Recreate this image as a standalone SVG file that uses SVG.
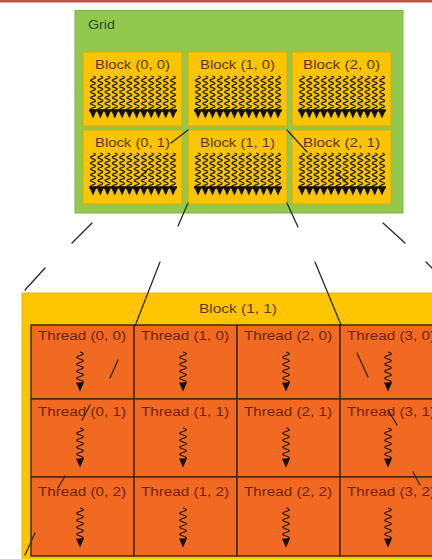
<svg xmlns="http://www.w3.org/2000/svg" xmlns:xlink="http://www.w3.org/1999/xlink" width="432" height="559" viewBox="0 0 432 559">
  <style>
    .lbl { font-family: "Liberation Sans", Arial, sans-serif; font-size: 12px; }
    .grid-box { fill: #92c84e; stroke: #80b542; stroke-width: 1; }
    .blk { fill: #fbc400; stroke: #e0a900; stroke-width: 1; }
    .blk-txt { fill: #5a3a10; }
    .thr { fill: #f26a21; stroke: #452818; stroke-width: 1.5; }
    .thr-txt { fill: #6e2410; }
    .wave { fill: none; stroke: #1a1a1a; stroke-width: 1.3; }
    .twave { fill: none; stroke: #1a1a1a; stroke-width: 1.2; }
    .head { fill: #111; }
    .conn line { stroke: #2a2a2a; stroke-width: 1.3; stroke-linecap: round; }
  </style>
  <defs>
    <!-- small thread wave used inside the grid blocks -->
    <path id="bw" class="wave" d="M0,0 q5,1.45 0,2.9 q-5,1.45 0,2.9 q5,1.45 0,2.9 q-5,1.45 0,2.9 q5,1.45 0,2.9 q-5,1.45 0,2.9 q5,1.45 0,2.9 q-5,1.45 0,2.9 q5,1.45 0,2.9 q-5,1.45 0,2.9 q5,1.45 0,2.9 q-5,1.45 0,2.9"/>
    <g id="bt">
      <use xlink:href="#bw"/>
      <path class="head" d="M-4,33.5 h8 l-4,9 z"/>
    </g>
    <!-- twelve threads per block -->
    <g id="warp">
      <use xlink:href="#bt" x="0"/>
      <use xlink:href="#bt" x="7.3"/>
      <use xlink:href="#bt" x="14.5"/>
      <use xlink:href="#bt" x="21.8"/>
      <use xlink:href="#bt" x="29.1"/>
      <use xlink:href="#bt" x="36.4"/>
      <use xlink:href="#bt" x="43.6"/>
      <use xlink:href="#bt" x="50.9"/>
      <use xlink:href="#bt" x="58.2"/>
      <use xlink:href="#bt" x="65.5"/>
      <use xlink:href="#bt" x="72.7"/>
      <use xlink:href="#bt" x="80"/>
      <rect x="-4" y="33.5" width="88" height="2" fill="#111"/>
    </g>
    <!-- single thread wave for the detailed block -->
    <g id="tw">
      <path class="twave" d="M0,0 q6.5,1.75 0,3.5 q-6.5,1.75 0,3.5 q6.5,1.75 0,3.5 q-6.5,1.75 0,3.5 q6.5,1.75 0,3.5 q-6.5,1.75 0,3.5 q6.5,1.75 0,3.5 q-6.5,1.75 0,3.5 q6.5,1.75 0,3.5 l0,1.5"/>
      <path class="head" d="M-4,30.5 h8 l-4,9 z"/>
    </g>
  </defs>

  <rect width="432" height="559" fill="#ffffff"/>
  <rect x="0" y="0" width="432" height="2.5" fill="#c0504d"/>

  <!-- grid of blocks -->
  <g id="grid">
    <rect class="grid-box" x="75" y="10.5" width="328" height="202.5"/>
    <text class="lbl" x="88" y="29" fill="#2f4a1f" textLength="27" lengthAdjust="spacingAndGlyphs">Grid</text>
  </g>
  <g id="block-0-0">
    <rect class="blk" x="83" y="52" width="99" height="74"/>
    <text class="lbl blk-txt" x="132.5" y="69" text-anchor="middle" textLength="75" lengthAdjust="spacingAndGlyphs">Block (0, 0)</text>
    <use xlink:href="#warp" x="93" y="76"/>
  </g>
  <g id="block-1-0">
    <rect class="blk" x="188" y="52" width="99" height="74"/>
    <text class="lbl blk-txt" x="237.5" y="69" text-anchor="middle" textLength="75" lengthAdjust="spacingAndGlyphs">Block (1, 0)</text>
    <use xlink:href="#warp" x="198" y="76"/>
  </g>
  <g id="block-2-0">
    <rect class="blk" x="292" y="52" width="99" height="74"/>
    <text class="lbl blk-txt" x="341.5" y="69" text-anchor="middle" textLength="77" lengthAdjust="spacingAndGlyphs">Block (2, 0)</text>
    <use xlink:href="#warp" x="302" y="76"/>
  </g>
  <g id="block-0-1">
    <rect class="blk" x="83" y="130" width="99" height="74"/>
    <text class="lbl blk-txt" x="132.5" y="147" text-anchor="middle" textLength="75" lengthAdjust="spacingAndGlyphs">Block (0, 1)</text>
    <use xlink:href="#warp" x="93" y="153"/>
  </g>
  <g id="block-1-1">
    <rect class="blk" x="188" y="130" width="99" height="74"/>
    <text class="lbl blk-txt" x="237.5" y="147" text-anchor="middle" textLength="75" lengthAdjust="spacingAndGlyphs">Block (1, 1)</text>
    <use xlink:href="#warp" x="198" y="153"/>
  </g>
  <g id="block-2-1">
    <rect class="blk" x="292" y="130" width="99" height="74"/>
    <text class="lbl blk-txt" x="341.5" y="147" text-anchor="middle" textLength="77" lengthAdjust="spacingAndGlyphs">Block (2, 1)</text>
    <use xlink:href="#warp" x="302" y="153"/>
  </g>

  <!-- expanded block (1, 1) -->
  <g id="block-1-1-detail">
    <rect x="22" y="293" width="440" height="270" fill="#fdc500" stroke="#e9b200" stroke-width="1"/>
    <text class="lbl" x="238" y="313" fill="#5a3e10" text-anchor="middle" textLength="78" lengthAdjust="spacingAndGlyphs">Block (1, 1)</text>
  </g>

  <g id="thread-0-0">
    <rect class="thr" x="31" y="325" width="103" height="74"/>
    <text class="lbl thr-txt" x="38" y="340" textLength="88" lengthAdjust="spacingAndGlyphs">Thread (0, 0)</text>
    <use xlink:href="#tw" x="80" y="352"/>
  </g>
  <g id="thread-1-0">
    <rect class="thr" x="134" y="325" width="103" height="74"/>
    <text class="lbl thr-txt" x="141" y="340" textLength="88" lengthAdjust="spacingAndGlyphs">Thread (1, 0)</text>
    <use xlink:href="#tw" x="183" y="352"/>
  </g>
  <g id="thread-2-0">
    <rect class="thr" x="237" y="325" width="103" height="74"/>
    <text class="lbl thr-txt" x="244" y="340" textLength="88" lengthAdjust="spacingAndGlyphs">Thread (2, 0)</text>
    <use xlink:href="#tw" x="286" y="352"/>
  </g>
  <g id="thread-3-0">
    <rect class="thr" x="340" y="325" width="103" height="74"/>
    <text class="lbl thr-txt" x="347" y="340" textLength="88" lengthAdjust="spacingAndGlyphs">Thread (3, 0)</text>
    <use xlink:href="#tw" x="388" y="352"/>
  </g>

  <g id="thread-0-1">
    <rect class="thr" x="31" y="399" width="103" height="78"/>
    <text class="lbl thr-txt" x="38" y="416" textLength="88" lengthAdjust="spacingAndGlyphs">Thread (0, 1)</text>
    <use xlink:href="#tw" x="80" y="428"/>
  </g>
  <g id="thread-1-1">
    <rect class="thr" x="134" y="399" width="103" height="78"/>
    <text class="lbl thr-txt" x="141" y="416" textLength="88" lengthAdjust="spacingAndGlyphs">Thread (1, 1)</text>
    <use xlink:href="#tw" x="183" y="428"/>
  </g>
  <g id="thread-2-1">
    <rect class="thr" x="237" y="399" width="103" height="78"/>
    <text class="lbl thr-txt" x="244" y="416" textLength="88" lengthAdjust="spacingAndGlyphs">Thread (2, 1)</text>
    <use xlink:href="#tw" x="286" y="428"/>
  </g>
  <g id="thread-3-1">
    <rect class="thr" x="340" y="399" width="103" height="78"/>
    <text class="lbl thr-txt" x="347" y="416" textLength="88" lengthAdjust="spacingAndGlyphs">Thread (3, 1)</text>
    <use xlink:href="#tw" x="388" y="428"/>
  </g>

  <g id="thread-0-2">
    <rect class="thr" x="31" y="477" width="103" height="79"/>
    <text class="lbl thr-txt" x="38" y="496" textLength="88" lengthAdjust="spacingAndGlyphs">Thread (0, 2)</text>
    <use xlink:href="#tw" x="80" y="508"/>
  </g>
  <g id="thread-1-2">
    <rect class="thr" x="134" y="477" width="103" height="79"/>
    <text class="lbl thr-txt" x="141" y="496" textLength="88" lengthAdjust="spacingAndGlyphs">Thread (1, 2)</text>
    <use xlink:href="#tw" x="183" y="508"/>
  </g>
  <g id="thread-2-2">
    <rect class="thr" x="237" y="477" width="103" height="79"/>
    <text class="lbl thr-txt" x="244" y="496" textLength="88" lengthAdjust="spacingAndGlyphs">Thread (2, 2)</text>
    <use xlink:href="#tw" x="286" y="508"/>
  </g>
  <g id="thread-3-2">
    <rect class="thr" x="340" y="477" width="103" height="79"/>
    <text class="lbl thr-txt" x="347" y="496" textLength="88" lengthAdjust="spacingAndGlyphs">Thread (3, 2)</text>
    <use xlink:href="#tw" x="388" y="508"/>
  </g>

  <!-- dashed projection lines from block (1, 1) to its expanded view -->
  <g id="connectors" class="conn">
    <!-- top-left corner -->
    <line x1="188" y1="130" x2="171" y2="143"/>
    <line x1="148" y1="169" x2="139" y2="178"/>
    <line x1="92" y1="223" x2="72" y2="243"/>
    <line x1="45" y1="268" x2="25" y2="290"/>
    <!-- top-right corner -->
    <line x1="287" y1="130" x2="307" y2="152"/>
    <line x1="337" y1="173" x2="347" y2="183"/>
    <line x1="383" y1="223" x2="405" y2="243"/>
    <line x1="426" y1="262" x2="432" y2="268"/>
    <!-- bottom-left corner -->
    <line x1="188" y1="203" x2="178" y2="226"/>
    <line x1="160" y1="262" x2="135" y2="326"/>
    <line x1="118" y1="360" x2="110" y2="378"/>
    <line x1="90" y1="405" x2="82" y2="420"/>
    <line x1="65" y1="476" x2="58" y2="488"/>
    <line x1="35" y1="533" x2="25" y2="555"/>
    <!-- bottom-right corner -->
    <line x1="287" y1="203" x2="298" y2="227"/>
    <line x1="315" y1="262" x2="341" y2="325"/>
    <line x1="357" y1="353" x2="368" y2="377"/>
    <line x1="388" y1="410" x2="397" y2="425"/>
    <line x1="413" y1="472" x2="420" y2="485"/>
  </g>
</svg>
